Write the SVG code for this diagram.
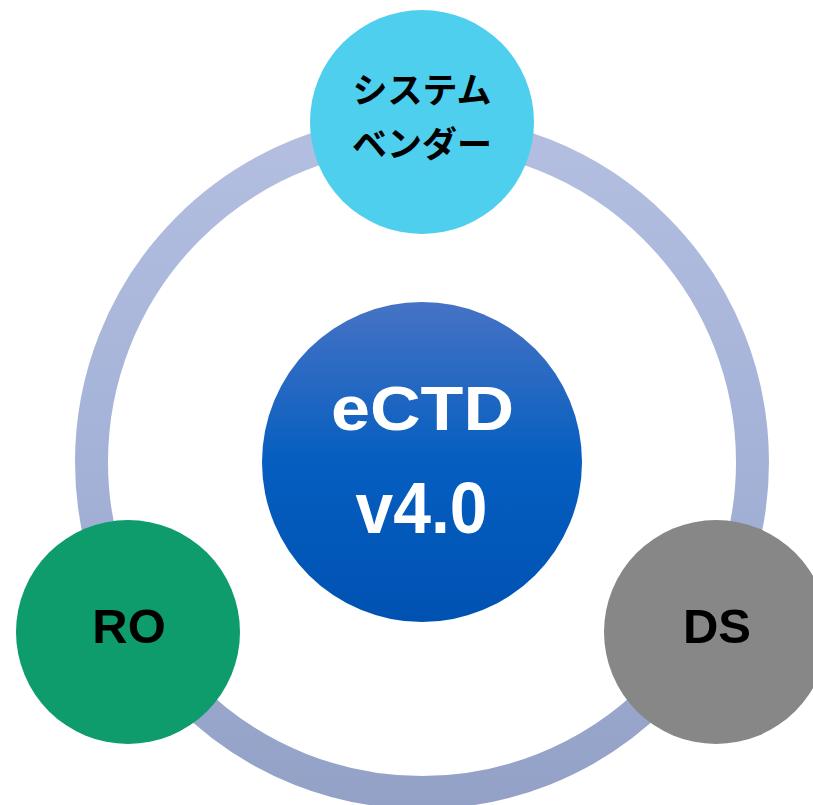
<svg xmlns="http://www.w3.org/2000/svg" width="813" height="805" viewBox="0 0 813 805">
  <defs>
    <linearGradient id="ringGrad" gradientUnits="userSpaceOnUse" x1="0" y1="115" x2="0" y2="809">
      <stop offset="0" stop-color="#b4bfe0"/>
      <stop offset="0.5" stop-color="#a4b2d8"/>
      <stop offset="1" stop-color="#93a1c7"/>
    </linearGradient>
    <linearGradient id="coreGrad" x1="0" y1="0" x2="0" y2="1">
      <stop offset="0" stop-color="#4673c4"/>
      <stop offset="0.5" stop-color="#055ec0"/>
      <stop offset="1" stop-color="#0052b2"/>
    </linearGradient>
    <style>
      .label { font-family: "Liberation Sans", Arial, sans-serif; font-weight: bold; text-anchor: middle; }
      .jp { font-family: "Noto Sans CJK JP", sans-serif; font-weight: bold; font-size: 35px; text-anchor: middle; fill: #000; }
      .core { fill: #ffffff; }
      .node-text { fill: #000000; font-size: 49px; }
    </style>
  </defs>

  <rect width="813" height="805" fill="#ffffff"/>

  <!-- connecting ring -->
  <g id="connectors">
    <circle cx="422" cy="462" r="330.5" fill="none" stroke="url(#ringGrad)" stroke-width="33"/>
  </g>

  <g id="core">
    <circle cx="422" cy="462" r="160" fill="url(#coreGrad)"/>
    <text class="label core" x="422.5" y="430" font-size="63" textLength="183" lengthAdjust="spacingAndGlyphs">eCTD</text>
    <text class="label core" x="421.5" y="533" font-size="73" textLength="132" lengthAdjust="spacingAndGlyphs">v4.0</text>
  </g>

  <g id="vendor">
    <circle cx="422" cy="122" r="112" fill="#4ecfee"/>
    <text class="jp" x="422" y="103">システム</text>
    <text class="jp" x="422" y="157">ベンダー</text>
  </g>

  <g id="ro">
    <circle cx="128" cy="632" r="112" fill="#0e9c6d"/>
    <text class="label node-text" x="129" y="643">RO</text>
  </g>

  <g id="ds">
    <circle cx="716" cy="632" r="112" fill="#878787"/>
    <text class="label node-text" x="717" y="643">DS</text>
  </g>
</svg>
